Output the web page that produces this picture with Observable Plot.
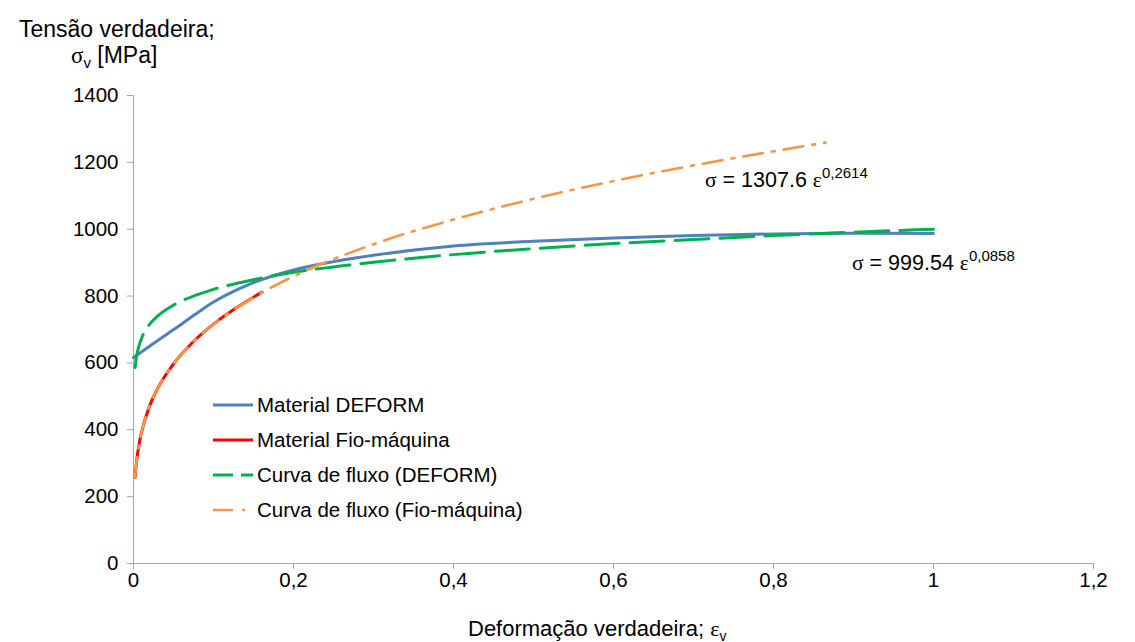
<!DOCTYPE html>
<html><head><meta charset="utf-8">
<script src="https://cdn.jsdelivr.net/npm/d3@7"></script>
<script src="https://cdn.jsdelivr.net/npm/@observablehq/plot@0.6"></script>
<style>body{margin:0;background:#fff}</style>
</head><body><div id="chart"></div>
<script>
const xTicks = [0, 0.2, 0.4, 0.6, 0.8, 1, 1.2];
const yTicks = [0, 200, 400, 600, 800, 1000, 1200, 1400];

// Material DEFORM (blue)
const deformStrain = [0, 0.02, 0.04, 0.06, 0.08, 0.1, 0.12, 0.15, 0.2, 0.25, 0.3, 0.4, 0.5, 0.6, 0.7, 0.8, 0.9, 1.0];
const deformStress = [616, 650, 683, 716, 750, 782, 808, 840, 878, 903, 922, 950, 964, 974, 981, 986, 988, 987];
// Material Fio-máquina (red)
const fioStrain = [0.002, 0.004, 0.007, 0.01, 0.02, 0.03, 0.05, 0.075, 0.1, 0.13, 0.16];
const fioStress = [258, 309, 357, 392, 470, 523, 597, 664, 716, 767, 811];
// Curva de fluxo (DEFORM) (green dashed)
const flowDStrain = [0.002, 0.004, 0.006, 0.01, 0.02, 0.03, 0.05, 0.075, 0.1, 0.15, 0.2, 0.3, 0.4, 0.5, 0.6, 0.7, 0.8, 0.9, 1.0];
const flowDStress = [586, 622, 644, 673, 715, 740, 773, 800, 820, 849, 871, 901, 924, 942, 957, 969, 981, 991, 1000];
// Curva de fluxo (Fio-máquina) (orange dash-dot)
const flowFStrain = [0.002, 0.004, 0.007, 0.01, 0.02, 0.03, 0.05, 0.075, 0.1, 0.15, 0.2, 0.3, 0.4, 0.5, 0.6, 0.7, 0.8, 0.865];
const flowFStress = [258, 309, 357, 392, 470, 523, 597, 664, 716, 796, 859, 955, 1029, 1091, 1144, 1191, 1233, 1259];

const seriesNames = ["Material DEFORM", "Material Fio-máquina", "Curva de fluxo (DEFORM)", "Curva de fluxo (Fio-máquina)"];
const seriesColors = ["#4f81bd", "#ff0000", "#00b050", "#f79646"];
const seriesDash = [null, null, "34,11", "20,9,3,9"];
const seriesWidth = [3, 3, 3, 2.6];

const toRows = (xs, ys) => xs.map((x, i) => ({x, y: ys[i]}));
const sets = [
  toRows(deformStrain, deformStress),
  toRows(fioStrain, fioStress),
  toRows(flowDStrain, flowDStress),
  toRows(flowFStrain, flowFStress)
];

const axisColor = "#a6a6a6";
const chart = Plot.plot({
  width: 1135, height: 642,
  marginLeft: 133, marginRight: 42, marginTop: 95, marginBottom: 79,
  style: {fontFamily: "'Liberation Sans', Arial, sans-serif", fontSize: "20.5px", color: "#000", background: "#fff", overflow: "visible"},
  x: {domain: [0, 1.2]},
  y: {domain: [0, 1400]},
  marks: [
    Plot.axisY({ticks: yTicks, tickSize: 6, tickPadding: 9, label: null, stroke: axisColor, fill: "#000",
      tickFormat: d => String(d)}),
    Plot.axisX({ticks: xTicks, tickSize: 6, tickPadding: 3, label: null, stroke: axisColor, fill: "#000",
      tickFormat: d => String(d).replace(".", ",")}),
    Plot.ruleX([0], {stroke: axisColor}),
    Plot.ruleY([0], {stroke: axisColor}),
    ...sets.map((rows, i) => Plot.line(rows, {
      x: "x", y: "y", stroke: seriesColors[i], strokeWidth: seriesWidth[i],
      strokeDasharray: seriesDash[i] || undefined, curve: "monotone-x"
    }))
  ]
});
document.getElementById("chart").appendChild(chart);

// Overlay texts (titles, legend, equations)
const svg = d3.select(chart);
const g = svg.append("g").attr("fill", "#000").attr("text-anchor", "start")
  .style("font-family", "'Liberation Sans', Arial, sans-serif");
g.append("text").attr("x", 19).attr("y", 37).style("font-size", "23px").text("Tensão verdadeira;");
const yt = g.append("text").attr("x", 71).attr("y", 63).style("font-size", "23px");
yt.append("tspan").style("font-family", "'Liberation Serif', serif").text("σ");
yt.append("tspan").attr("dy", 5).style("font-size", "15px").text("v");
yt.append("tspan").attr("dy", -5).text(" [MPa]");

const xt = g.append("text").attr("x", 468).attr("y", 636).style("font-size", "22px");
xt.append("tspan").text("Deformação verdadeira; ");
xt.append("tspan").style("font-family", "'Liberation Serif', serif").text("ε");
xt.append("tspan").attr("dy", 5).style("font-size", "14px").text("v");

function eq(x, y, coef, expo) {
  const t = g.append("text").attr("x", x).attr("y", y).style("font-size", "21.5px");
  t.append("tspan").style("font-family", "'Liberation Serif', serif").text("σ");
  t.append("tspan").text(" = " + coef + " ");
  t.append("tspan").style("font-family", "'Liberation Serif', serif").text("ε");
  t.append("tspan").attr("dy", -9).style("font-size", "15px").text(expo);
}
eq(705, 187, "1307.6", "0,2614");
eq(852, 270, "999.54", "0,0858");

// Legend
seriesNames.forEach((name, i) => {
  const cy = 405 + i * 35;
  g.append("line").attr("x1", 213).attr("x2", 253).attr("y1", cy).attr("y2", cy)
    .attr("stroke", seriesColors[i]).attr("stroke-width", seriesWidth[i])
    .attr("stroke-dasharray", seriesDash[i] ? (i === 2 ? "20,8" : "20,9,3,9") : null);
  g.append("text").attr("x", 257).attr("y", cy + 7).style("font-size", "20.5px").text(name);
});
</script>
</body></html>
